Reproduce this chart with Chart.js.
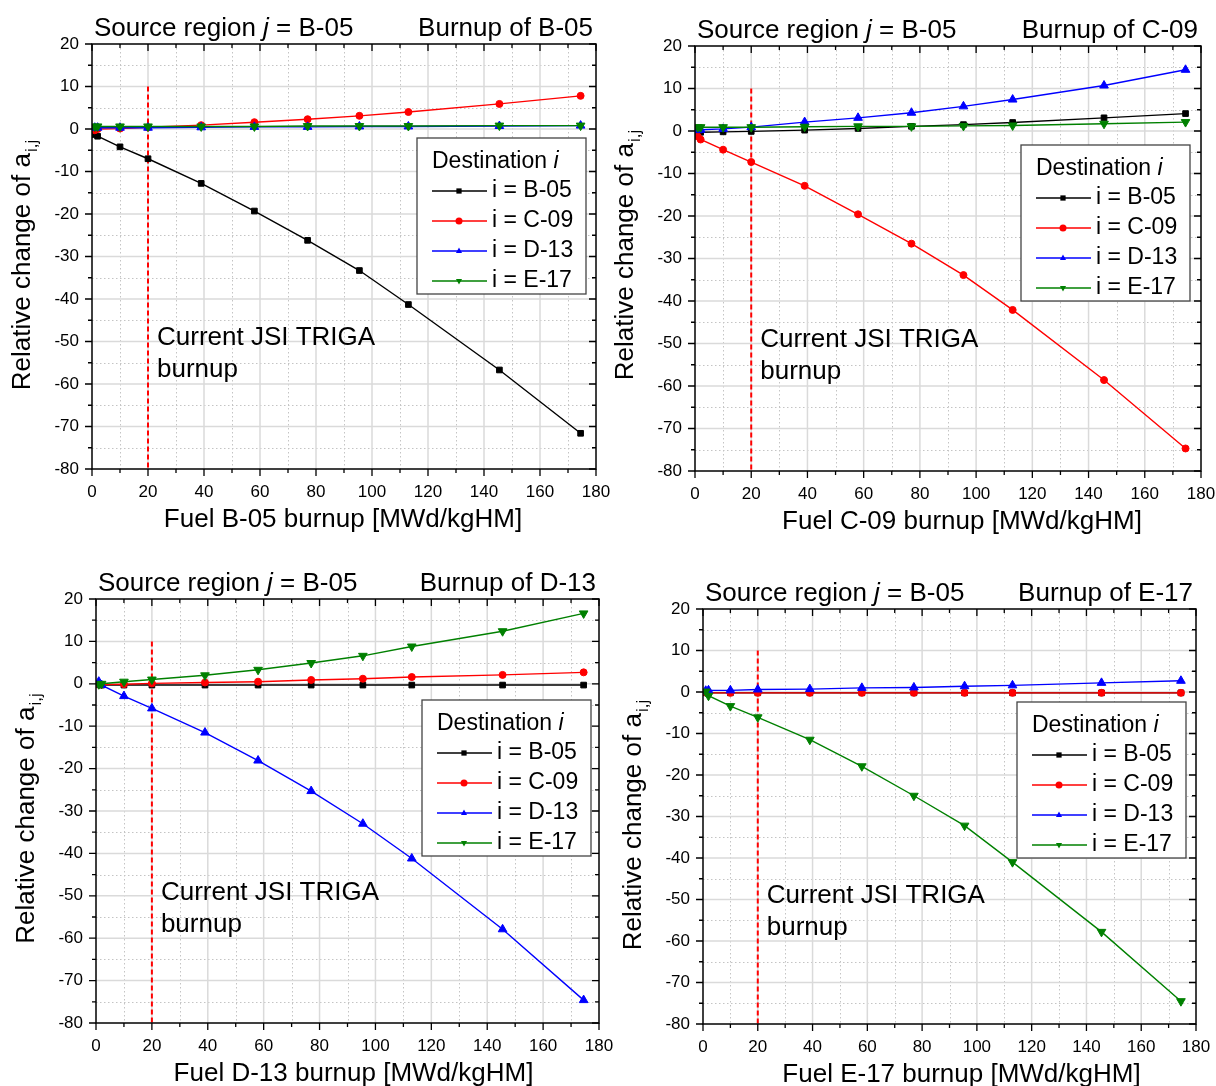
<!DOCTYPE html>
<html>
<head>
<meta charset="utf-8">
<script src="https://cdn.jsdelivr.net/npm/chart.js@4.4.1/dist/chart.umd.min.js"></script>
<style>
  html, body { margin: 0; padding: 0; background: #fff; }
  #page { position: relative; width: 1216px; height: 1086px; overflow: hidden; }
  .panel { position: absolute; }
</style>
</head>
<body>
<div id="page"></div>
<script>
// burnup steps (MWd/kgHM), same for all four panels
var burnup = [1, 2, 10, 20, 39, 58, 77, 95.5, 113, 145.5, 174.5];

// panel 1: burnup of B-05
var p1B05 = [-1.3, -1.7, -4.2, -7.0, -12.8, -19.3, -26.2, -33.3, -41.3, -56.7, -71.6];
var p1C09 = [-0.3, 0.0, 0.1, 0.4, 0.9, 1.6, 2.3, 3.1, 4.0, 5.9, 7.8];
var p1D13 = [0.3, 0.3, 0.3, 0.3, 0.4, 0.5, 0.5, 0.6, 0.6, 0.7, 0.8];
var p1E17 = [0.6, 0.6, 0.6, 0.6, 0.6, 0.6, 0.7, 0.7, 0.7, 0.8, 0.8];

// panel 2: burnup of C-09
var p2B05 = [-0.4, -0.3, -0.2, -0.1, 0.2, 0.6, 1.1, 1.5, 2.0, 3.1, 4.1];
var p2C09 = [-1.3, -2.0, -4.4, -7.3, -12.9, -19.6, -26.5, -33.9, -42.1, -58.6, -74.7];
var p2D13 = [0.2, 0.3, 0.5, 0.9, 2.1, 3.1, 4.3, 5.8, 7.4, 10.7, 14.4];
var p2E17 = [0.9, 0.9, 0.9, 0.9, 1.0, 1.1, 1.1, 1.2, 1.3, 1.7, 2.1];

// panel 3: burnup of D-13
var p3B05 = [-0.2, -0.3, -0.3, -0.3, -0.3, -0.3, -0.3, -0.3, -0.3, -0.3, -0.3];
var p3C09 = [-0.2, -0.2, -0.1, 0.1, 0.3, 0.5, 0.9, 1.2, 1.6, 2.1, 2.7];
var p3D13 = [0.5, -0.3, -2.9, -5.8, -11.5, -18.1, -25.3, -33.0, -41.2, -57.9, -74.6];
var p3E17 = [-0.1, 0.0, 0.5, 1.0, 2.0, 3.3, 4.9, 6.6, 8.8, 12.4, 16.6];

// panel 4: burnup of E-17
var p4B05 = [-0.2, -0.2, -0.2, -0.2, -0.2, -0.2, -0.2, -0.2, -0.2, -0.2, -0.2];
var p4C09 = [-0.1, -0.2, -0.2, -0.2, -0.2, -0.2, -0.2, -0.2, -0.2, -0.2, -0.2];
var p4D13 = [0.3, 0.4, 0.4, 0.6, 0.7, 1.0, 1.1, 1.4, 1.6, 2.2, 2.7];
var p4E17 = [0.1, -0.9, -3.4, -6.1, -11.5, -17.9, -25.0, -32.2, -41.0, -57.8, -74.5];

// current JSI TRIGA burnup marker line
var refLineX = [20, 20];
var refLineY = [10, -80];
var noteX = 20, noteY = -49.2;

// axes
var xMin = 0, xMax = 180, xMajor = 20, xMinor = 10;
var yMin = -80, yMax = 20, yMajor = 10, yMinor = 5;

var destNames = ['B-05', 'C-09', 'D-13', 'E-17'];
var destColors = ['#000000', '#ff0000', '#0000ff', '#008000'];
var destMarkers = ['rect', 'circle', 'triangle', 'triangle'];
var destRotation = [0, 0, 0, 180];
var destRadius = [4, 3.5, 5, 5];

var FONT = '"Liberation Sans", Arial, Helvetica, sans-serif';
var yAxisW = 50, xAxisH = 40;

var panels = [
  { fuel: 'B-05', series: [p1B05, p1C09, p1D13, p1E17],
    box: [0, 0, 616, 543], plot: [92, 44, 596, 469],
    xTitleShift: -1, yTitleShift: 9, legRight: 10, legTop: 94 },
  { fuel: 'C-09', series: [p2B05, p2C09, p2D13, p2E17],
    box: [600, 0, 616, 543], plot: [695, 46, 1201, 471],
    xTitleShift: 14, yTitleShift: -3, legRight: 11, legTop: 99 },
  { fuel: 'D-13', series: [p3B05, p3C09, p3D13, p3E17],
    box: [0, 543, 616, 543], plot: [96, 599, 599, 1023],
    xTitleShift: 6, yTitleShift: 8, legRight: 8, legTop: 101 },
  { fuel: 'E-17', series: [p4B05, p4C09, p4D13, p4E17],
    box: [600, 543, 616, 543], plot: [703, 609, 1196, 1024],
    xTitleShift: 12, yTitleShift: 9, legRight: 10, legTop: 93 }
];

function richWidth(ctx, parts, size) {
  var w = 0;
  parts.forEach(function(p) {
    ctx.font = (p.italic ? 'italic ' : '') + size + 'px ' + FONT;
    w += ctx.measureText(p.t).width;
  });
  return w;
}

function drawRich(ctx, parts, x, y, size, align) {
  var w = richWidth(ctx, parts, size);
  if (align === 'right') x -= w;
  if (align === 'center') x -= w / 2;
  ctx.textAlign = 'left';
  ctx.textBaseline = 'middle';
  parts.forEach(function(p) {
    ctx.font = (p.italic ? 'italic ' : '') + size + 'px ' + FONT;
    ctx.fillText(p.t, x, y);
    x += ctx.measureText(p.t).width;
  });
}

function marker(ctx, style, x, y, r, rot) {
  ctx.beginPath();
  if (style === 'rect') {
    ctx.rect(x - r * 0.75, y - r * 0.75, r * 1.5, r * 1.5);
  } else if (style === 'circle') {
    ctx.arc(x, y, r, 0, 2 * Math.PI);
  } else {
    var d = rot ? -1 : 1;
    ctx.moveTo(x, y - d * r);
    ctx.lineTo(x + r * 0.87, y + d * r * 0.55);
    ctx.lineTo(x - r * 0.87, y + d * r * 0.55);
    ctx.closePath();
  }
  ctx.fill();
}

function framePlugin(p) {
  return {
    id: 'originFrame',
    beforeDatasetsDraw: function(chart) {
      var ctx = chart.ctx, a = chart.chartArea;
      var xs = chart.scales.x, ys = chart.scales.y;
      var v, px;
      ctx.save();
      // minor grid, dotted
      ctx.strokeStyle = '#c4c4c4';
      ctx.lineWidth = 1;
      ctx.setLineDash([1.5, 2.5]);
      for (v = xMin + xMinor; v < xMax; v += xMajor) {
        px = Math.round(xs.getPixelForValue(v)) + 0.5;
        ctx.beginPath(); ctx.moveTo(px, a.top); ctx.lineTo(px, a.bottom); ctx.stroke();
      }
      for (v = yMax - yMinor; v > yMin; v -= yMajor) {
        px = Math.round(ys.getPixelForValue(v)) + 0.5;
        ctx.beginPath(); ctx.moveTo(a.left, px); ctx.lineTo(a.right, px); ctx.stroke();
      }
      // major grid, solid light grey
      ctx.setLineDash([]);
      ctx.strokeStyle = '#dadada';
      ctx.lineWidth = 1.5;
      for (v = xMin + xMajor; v < xMax; v += xMajor) {
        px = xs.getPixelForValue(v);
        ctx.beginPath(); ctx.moveTo(px, a.top); ctx.lineTo(px, a.bottom); ctx.stroke();
      }
      for (v = yMax - yMajor; v > yMin; v -= yMajor) {
        px = ys.getPixelForValue(v);
        ctx.beginPath(); ctx.moveTo(a.left, px); ctx.lineTo(a.right, px); ctx.stroke();
      }
      ctx.restore();
    },
    afterDatasetsDraw: function(chart) {
      var ctx = chart.ctx, a = chart.chartArea;
      var xs = chart.scales.x, ys = chart.scales.y;
      var v, px, len;
      ctx.save();
      ctx.strokeStyle = '#000';
      ctx.lineWidth = 1.5;
      ctx.strokeRect(a.left, a.top, a.right - a.left, a.bottom - a.top);
      ctx.lineWidth = 1.3;
      for (v = xMin; v <= xMax; v += xMinor) {
        px = xs.getPixelForValue(v);
        len = (v % xMajor === 0) ? 7 : 4;
        ctx.beginPath();
        ctx.moveTo(px, a.bottom); ctx.lineTo(px, a.bottom + len);
        ctx.moveTo(px, a.top); ctx.lineTo(px, a.top + len);
        ctx.stroke();
      }
      for (v = yMin; v <= yMax; v += yMinor) {
        px = ys.getPixelForValue(v);
        len = (v % yMajor === 0) ? 7 : 4;
        ctx.beginPath();
        ctx.moveTo(a.left, px); ctx.lineTo(a.left - len, px);
        ctx.moveTo(a.right, px); ctx.lineTo(a.right - len, px);
        ctx.stroke();
      }
      ctx.restore();
    },
    afterDraw: function(chart) {
      var ctx = chart.ctx, a = chart.chartArea;
      var xs = chart.scales.x, ys = chart.scales.y;
      ctx.save();
      ctx.fillStyle = '#000';

      // header texts
      drawRich(ctx, [{t: 'Source region '}, {t: 'j', italic: true}, {t: ' = B-05'}],
        a.left + 2, a.top - 15, 26, 'left');
      drawRich(ctx, [{t: 'Burnup of ' + p.fuel}], a.right - 3, a.top - 15, 26, 'right');

      // x title
      drawRich(ctx, [{t: 'Fuel ' + p.fuel + ' burnup [MWd/kgHM]'}],
        (a.left + a.right) / 2 + p.xTitleShift, a.bottom + 51, 26, 'center');

      // y title, rotated, with subscript
      ctx.save();
      ctx.translate(a.left - 69, (a.top + a.bottom) / 2 + p.yTitleShift);
      ctx.rotate(-Math.PI / 2);
      ctx.font = '26px ' + FONT;
      var mainT = 'Relative change of a';
      var w1 = ctx.measureText(mainT).width;
      ctx.font = '17px ' + FONT;
      var w2 = ctx.measureText('i,j').width;
      var sx = -(w1 + w2) / 2;
      ctx.textAlign = 'left';
      ctx.textBaseline = 'middle';
      ctx.font = '26px ' + FONT;
      ctx.fillText(mainT, sx, 0);
      ctx.font = '17px ' + FONT;
      ctx.fillText('i,j', sx + w1 + 1, 9);
      ctx.restore();

      // annotation next to the dashed line
      var nx = xs.getPixelForValue(noteX) + 9;
      var ny = ys.getPixelForValue(noteY);
      drawRich(ctx, [{t: 'Current JSI TRIGA'}], nx, ny, 26, 'left');
      drawRich(ctx, [{t: 'burnup'}], nx, ny + 32, 26, 'left');

      // legend box
      var bw = 169, bh = 156;
      var bx = a.right - p.legRight - bw, by = a.top + p.legTop;
      ctx.fillStyle = '#fff';
      ctx.fillRect(bx, by, bw, bh);
      ctx.strokeStyle = '#444';
      ctx.lineWidth = 1.3;
      ctx.strokeRect(bx, by, bw, bh);
      ctx.fillStyle = '#000';
      drawRich(ctx, [{t: 'Destination '}, {t: 'i', italic: true}], bx + 15, by + 24, 23, 'left');
      for (var k = 0; k < destNames.length; k++) {
        var ry = by + 53 + k * 30;
        ctx.strokeStyle = destColors[k];
        ctx.lineWidth = 1.5;
        ctx.beginPath(); ctx.moveTo(bx + 15, ry); ctx.lineTo(bx + 70, ry); ctx.stroke();
        ctx.fillStyle = destColors[k];
        marker(ctx, destMarkers[k], bx + 42, ry, 3.5, destRotation[k]);
        ctx.fillStyle = '#000';
        drawRich(ctx, [{t: 'i = ' + destNames[k]}], bx + 75, ry, 23, 'left');
      }
      ctx.restore();
    }
  };
}

var page = document.getElementById('page');

panels.forEach(function(p) {
  var div = document.createElement('div');
  div.className = 'panel';
  div.style.left = p.box[0] + 'px';
  div.style.top = p.box[1] + 'px';
  div.style.width = p.box[2] + 'px';
  div.style.height = p.box[3] + 'px';
  var cv = document.createElement('canvas');
  div.appendChild(cv);
  page.appendChild(div);

  var datasets = p.series.map(function(vals, k) {
    return {
      label: 'i = ' + destNames[k],
      data: burnup.map(function(x, n) { return {x: x, y: vals[n]}; }),
      showLine: true,
      borderColor: destColors[k],
      backgroundColor: destColors[k],
      borderWidth: 1.4,
      pointStyle: destMarkers[k],
      pointRotation: destRotation[k],
      pointRadius: destRadius[k],
      pointBorderWidth: 1,
      pointBackgroundColor: destColors[k],
      pointBorderColor: destColors[k],
      order: 10 - k
    };
  });
  datasets.push({
    label: 'ref',
    data: refLineX.map(function(x, n) { return {x: x, y: refLineY[n]}; }),
    showLine: true,
    borderColor: '#ff0000',
    borderWidth: 2,
    borderDash: [5, 3],
    pointRadius: 0,
    order: 20
  });

  var padLeft = p.plot[0] - p.box[0] - yAxisW;
  var padTop = p.plot[1] - p.box[1];
  var padRight = p.box[0] + p.box[2] - p.plot[2];
  var padBottom = p.box[1] + p.box[3] - p.plot[3] - xAxisH;

  new Chart(cv, {
    type: 'scatter',
    data: { datasets: datasets },
    options: {
      responsive: true,
      maintainAspectRatio: false,
      animation: false,
      events: [],
      layout: { padding: { left: padLeft, top: padTop, right: padRight, bottom: padBottom } },
      plugins: { legend: { display: false }, tooltip: { enabled: false } },
      scales: {
        x: {
          type: 'linear', min: xMin, max: xMax,
          grid: { display: false, drawTicks: false },
          border: { display: false },
          ticks: { stepSize: xMajor, color: '#000', padding: 13, maxRotation: 0, autoSkip: false,
                   font: { family: FONT, size: 17 } },
          afterFit: function(s) { s.height = xAxisH; s.paddingLeft = 0; s.paddingRight = 0; }
        },
        y: {
          type: 'linear', min: yMin, max: yMax,
          grid: { display: false, drawTicks: false },
          border: { display: false },
          ticks: { stepSize: yMajor, color: '#000', padding: 13, autoSkip: false,
                   font: { family: FONT, size: 17 } },
          afterFit: function(s) { s.width = yAxisW; s.paddingTop = 0; s.paddingBottom = 0; }
        }
      }
    },
    plugins: [framePlugin(p)]
  });
});
</script>
</body>
</html>
